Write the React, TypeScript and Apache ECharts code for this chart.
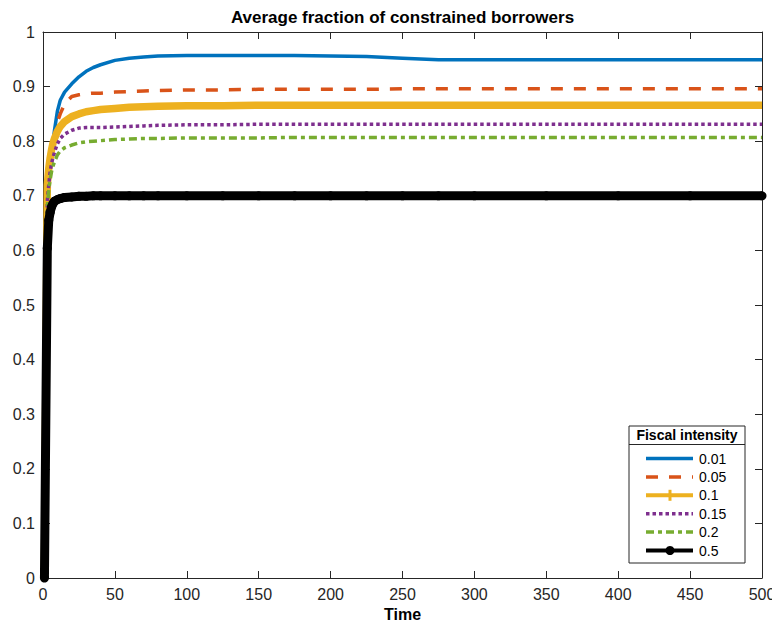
import React, { useEffect, useRef } from "react";
import * as echarts from "echarts";

const TITLE = "Average fraction of constrained borrowers";
const X_NAME = "Time";
const LEGEND_TITLE = "Fiscal intensity";
const SERIES_NAMES = ["0.01", "0.05", "0.1", "0.15", "0.2", "0.5"];

const TIME = [1, 3, 4, 5, 6, 7, 8, 10, 12, 15, 20, 25, 30, 35, 40, 50, 60, 70, 80, 100, 125, 150, 175, 200, 225, 250, 275, 300, 350, 400, 450, 500];

const S001 = [0, 0.7, 0.74, 0.77, 0.785, 0.8, 0.82, 0.855, 0.875, 0.89, 0.905, 0.918, 0.928, 0.935, 0.94, 0.948, 0.952, 0.954, 0.956, 0.957, 0.957, 0.957, 0.957, 0.956, 0.955, 0.952, 0.949, 0.949, 0.949, 0.949, 0.949, 0.949];
const S005 = [0, 0.68, 0.72, 0.75, 0.77, 0.79, 0.81, 0.835, 0.85, 0.868, 0.882, 0.885, 0.887, 0.888, 0.888, 0.89, 0.891, 0.892, 0.893, 0.894, 0.894, 0.895, 0.895, 0.895, 0.895, 0.896, 0.896, 0.896, 0.896, 0.896, 0.896, 0.896];
const S01 = [0, 0.72, 0.75, 0.77, 0.785, 0.797, 0.805, 0.818, 0.827, 0.836, 0.845, 0.85, 0.854, 0.856, 0.858, 0.86, 0.862, 0.863, 0.864, 0.865, 0.865, 0.866, 0.866, 0.866, 0.866, 0.866, 0.866, 0.866, 0.866, 0.866, 0.866, 0.866];
const S015 = [0, 0.69, 0.72, 0.745, 0.76, 0.77, 0.78, 0.795, 0.805, 0.813, 0.82, 0.824, 0.825, 0.825, 0.825, 0.826, 0.827, 0.828, 0.829, 0.83, 0.83, 0.831, 0.831, 0.831, 0.831, 0.831, 0.831, 0.831, 0.831, 0.831, 0.831, 0.831];
const S02 = [0, 0.68, 0.71, 0.73, 0.745, 0.755, 0.762, 0.775, 0.782, 0.788, 0.793, 0.797, 0.799, 0.8, 0.801, 0.803, 0.804, 0.805, 0.805, 0.806, 0.806, 0.806, 0.807, 0.807, 0.807, 0.807, 0.807, 0.807, 0.807, 0.807, 0.807, 0.807];
const S05 = [0, 0.604, 0.655, 0.67, 0.68, 0.686, 0.69, 0.693, 0.695, 0.697, 0.698, 0.699, 0.699, 0.7, 0.7, 0.7, 0.7, 0.7, 0.7, 0.7, 0.7, 0.7, 0.7, 0.7, 0.7, 0.7, 0.7, 0.7, 0.7, 0.7, 0.7, 0.7];

const VALUES = [S001, S005, S01, S015, S02, S05];
const COLORS = ["#0072BD", "#D95319", "#EDB120", "#7E2F8E", "#77AC30", "#000000"];
const WIDTHS = [3.5, 3.5, 7.5, 3.5, 3.5, 9];
const DASHES: any[] = ["solid", [12, 11], "solid", [3.5, 3], [8, 4, 4, 4], "solid"];

const AXIS_COLOR = "#262626";
const FONT = "'Liberation Sans', Arial, Helvetica, sans-serif";

export default function App() {
  const ref = useRef<HTMLDivElement>(null);
  useEffect(() => {
    if (!ref.current) return;
    const chart = echarts.init(ref.current, null, { renderer: "svg" });

    const series: any[] = SERIES_NAMES.map((name, i) => ({
      name,
      type: "line",
      xAxisIndex: 0,
      yAxisIndex: 0,
      data: TIME.map((t, k) => [t, VALUES[i][k]]),
      showSymbol: i === 5,
      symbol: "circle",
      symbolSize: 9,
      itemStyle: { color: COLORS[i] },
      lineStyle: { color: COLORS[i], width: WIDTHS[i], type: DASHES[i], cap: "butt", join: "round" },
      silent: true,
      z: 2 + i,
    }));

    const LX = 629, LY = 426, LW = 116, LH = 137;
    const legendChildren: any[] = [
      { type: "rect", shape: { x: LX, y: LY, width: LW, height: LH }, style: { fill: "#fff", stroke: AXIS_COLOR, lineWidth: 1 } },
      { type: "text", x: LX + LW / 2, y: LY + 9, style: { text: LEGEND_TITLE, font: `bold 14px ${FONT}`, fill: "#000", textAlign: "center", textVerticalAlign: "middle" } },
      { type: "line", shape: { x1: LX, y1: LY + 18.5, x2: LX + LW, y2: LY + 18.5 }, style: { stroke: AXIS_COLOR, lineWidth: 1 } },
    ];
    SERIES_NAMES.forEach((name, i) => {
      const y = 458.5 + i * 18.4;
      const w = i === 2 ? 4 : i === 5 ? 4 : WIDTHS[i];
      legendChildren.push({
        type: "line",
        shape: { x1: 646, y1: y, x2: 693, y2: y },
        style: { stroke: COLORS[i], lineWidth: w, lineDash: Array.isArray(DASHES[i]) ? DASHES[i] : null, lineCap: "butt" },
      });
      if (i === 2) {
        legendChildren.push({ type: "line", shape: { x1: 670, y1: y - 5.5, x2: 670, y2: y + 5.5 }, style: { stroke: COLORS[i], lineWidth: 3 } });
      }
      if (i === 5) {
        legendChildren.push({ type: "circle", shape: { cx: 670, cy: y, r: 4.5 }, style: { fill: "#000" } });
      }
      legendChildren.push({
        type: "text",
        x: 699,
        y: y,
        style: { text: name, font: `14px ${FONT}`, fill: "#000", textAlign: "left", textVerticalAlign: "middle" },
      });
    });

    const axisCommon = {
      axisLine: { show: true, onZero: false, lineStyle: { color: AXIS_COLOR, width: 1 } },
      axisTick: { show: true, inside: true, length: 7, lineStyle: { color: AXIS_COLOR, width: 1 } },
      splitLine: { show: false },
    };

    chart.setOption({
      animation: false,
      backgroundColor: "#fff",
      grid: { left: 43, right: 10, top: 32, bottom: 45, containLabel: false, outerBoundsMode: "none" },
      xAxis: [
        {
          type: "value",
          min: 0,
          max: 500,
          interval: 50,
          position: "bottom",
          ...axisCommon,
          axisLabel: { show: true, fontSize: 16, color: AXIS_COLOR, fontFamily: FONT, margin: 8 },
          name: X_NAME,
          nameLocation: "middle",
          nameGap: 25,
          nameTextStyle: { fontSize: 16, fontWeight: "bold", color: "#000", fontFamily: FONT },
        },
        {
          type: "value",
          min: 0,
          max: 500,
          interval: 50,
          position: "top",
          ...axisCommon,
          axisLabel: { show: false },
        },
      ],
      yAxis: [
        {
          type: "value",
          min: 0,
          max: 1,
          interval: 0.1,
          position: "left",
          ...axisCommon,
          axisLabel: { show: true, fontSize: 16, color: AXIS_COLOR, fontFamily: FONT, margin: 8 },
        },
        {
          type: "value",
          min: 0,
          max: 1,
          interval: 0.1,
          position: "right",
          ...axisCommon,
          axisLabel: { show: false },
        },
      ],
      series,
      graphic: [
        { type: "text", x: 402.5, y: 17, style: { text: TITLE, font: `bold 17px ${FONT}`, fill: "#000", textAlign: "center", textVerticalAlign: "middle" }, z: 100 },
        { type: "group", children: legendChildren, z: 100 },
      ],
    });
    return () => chart.dispose();
  }, []);
  return <div ref={ref} style={{ position: "fixed", left: 0, top: 0, width: 772, height: 623, background: "#fff" }} />;
}
